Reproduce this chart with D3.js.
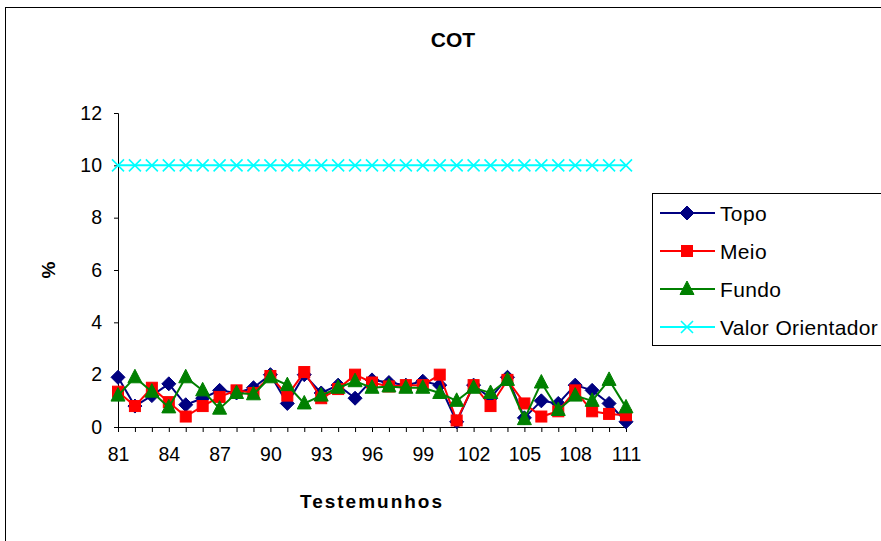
<!DOCTYPE html>
<html><head><meta charset="utf-8">
<script src="https://cdn.jsdelivr.net/npm/d3@7"></script>
<style>body{margin:0;background:#fff}svg{display:block}text{font-family:"Liberation Sans",Arial,sans-serif}</style>
</head><body><svg id="c" width="881" height="541"></svg>
<script>
const testemunhos = d3.range(81, 112);
const topo = [1.9,0.8,1.2,1.65,0.85,1.1,1.4,1.3,1.5,2.0,0.9,2.0,1.3,1.6,1.1,1.8,1.7,1.6,1.75,1.6,0.2,1.6,1.1,1.9,0.35,1.0,0.9,1.6,1.4,0.9,0.2];
const meio = [1.35,0.8,1.5,0.95,0.4,0.8,1.15,1.4,1.3,1.95,1.2,2.1,1.1,1.45,2.0,1.7,1.55,1.6,1.6,2.0,0.25,1.6,0.8,1.8,0.9,0.4,0.6,1.4,0.6,0.5,0.45];
const fundo = [1.2,1.9,1.35,0.75,1.9,1.4,0.7,1.3,1.25,1.9,1.6,0.9,1.2,1.5,1.75,1.5,1.55,1.5,1.5,1.3,1.0,1.5,1.3,1.8,0.3,1.7,0.65,1.2,1.0,1.8,0.75];
const valorOrientador = testemunhos.map(() => 10);
const yTicks = [0,2,4,6,8,10,12];
const xTickLabels = [81,84,87,90,93,96,99,102,105,108,111];

const series = [
  {name:"Topo", values:topo, color:"#000080", marker:"diamond"},
  {name:"Meio", values:meio, color:"#FF0000", marker:"square"},
  {name:"Fundo", values:fundo, color:"#008000", marker:"triangle"},
  {name:"Valor Orientador", values:valorOrientador, color:"#00FFFF", marker:"x"}
];

const svg = d3.select("#c");
svg.append("rect").attr("x",5.5).attr("y",7.5).attr("width",890).attr("height",550).attr("fill","none").attr("stroke","#000").attr("stroke-width",1);

const x = d3.scaleLinear().domain([81,111]).range([118,626]);
const y = d3.scaleLinear().domain([0,12]).range([427,113]);

svg.append("text").attr("x",453).attr("y",47).attr("text-anchor","middle").attr("font-size",21).attr("font-weight","bold").text("COT");

const yAx = svg.append("g").attr("transform","translate(118,0)")
  .call(d3.axisLeft(y).tickValues(yTicks).tickSize(4).tickPadding(12).tickFormat(d3.format("d")));
yAx.selectAll("path,line").attr("stroke","#000");
yAx.select(".domain").attr("d","M-4,113.5H0.5V427.5");
yAx.selectAll("text").attr("font-size",19.5).attr("fill","#000").attr("font-family","Liberation Sans, Arial");

const xAx = svg.append("g").attr("transform","translate(0,427)")
  .call(d3.axisBottom(x).tickValues(testemunhos).tickSize(5).tickPadding(15).tickFormat(d => xTickLabels.includes(d) ? d : ""));
xAx.selectAll("path,line").attr("stroke","#000");
xAx.select(".domain").attr("d","M118,0.5H626.5");
xAx.selectAll("text").attr("font-size",19.5).attr("fill","#000").attr("font-family","Liberation Sans, Arial");

svg.append("text").attr("transform","translate(55,270) rotate(-90)").attr("text-anchor","middle").attr("font-size",19).attr("font-weight","bold").text("%");
svg.append("text").attr("x",372).attr("y",508).attr("text-anchor","middle").attr("font-size",19).attr("font-weight","bold").attr("letter-spacing","2").text("Testemunhos");

function drawMarker(g, type, color, cx, cy) {
  if (type === "diamond") {
    g.append("path").attr("d",`M${cx},${cy-7}L${cx+7},${cy}L${cx},${cy+7}L${cx-7},${cy}Z`).attr("fill",color).attr("stroke",color);
  } else if (type === "square") {
    g.append("rect").attr("x",cx-5.5).attr("y",cy-5.5).attr("width",11).attr("height",11).attr("fill",color).attr("stroke",color);
  } else if (type === "triangle") {
    g.append("path").attr("d",`M${cx},${cy-8}L${cx+7},${cy+5.5}L${cx-7},${cy+5.5}Z`).attr("fill",color).attr("stroke",color);
  } else {
    g.append("path").attr("d",`M${cx-6},${cy-6}L${cx+6},${cy+6}M${cx-6},${cy+6}L${cx+6},${cy-6}`).attr("stroke",color).attr("stroke-width",1.6).attr("fill","none");
  }
}

const line = d3.line().x((d,i) => x(testemunhos[i])).y(d => y(d));
series.forEach(s => {
  const g = svg.append("g");
  g.append("path").datum(s.values).attr("d",line).attr("fill","none").attr("stroke",s.color).attr("stroke-width",2);
  s.values.forEach((v,i) => drawMarker(g, s.marker, s.color, x(testemunhos[i]), y(v)));
});

// legend
svg.append("rect").attr("x",652.5).attr("y",193.5).attr("width",240).attr("height",152).attr("fill","#fff").attr("stroke","#000");
series.forEach((s,i) => {
  const cy = 213 + i*38;
  const g = svg.append("g");
  g.append("line").attr("x1",660).attr("x2",715).attr("y1",cy).attr("y2",cy).attr("stroke",s.color).attr("stroke-width",2);
  drawMarker(g, s.marker, s.color, 687, cy);
  g.append("text").attr("x",720).attr("y",cy+7.5).attr("font-size",21).attr("letter-spacing","0.35").text(s.name);
});
</script></body></html>
